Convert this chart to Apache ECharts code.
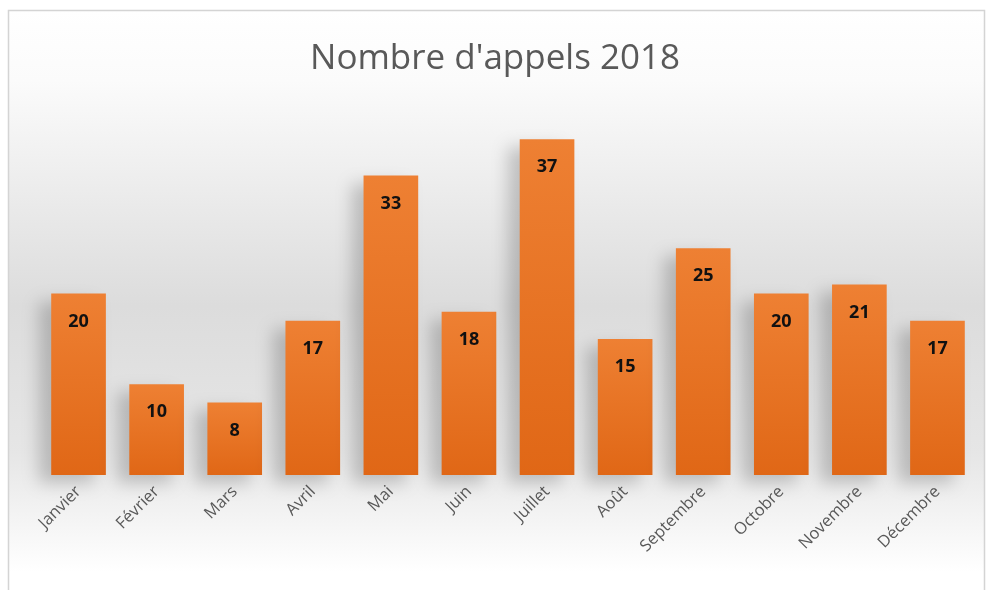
<!DOCTYPE html>
<html><head><meta charset="utf-8">
<script src="https://cdn.jsdelivr.net/npm/echarts@6/dist/echarts.min.js"></script>
<style>html,body{margin:0;padding:0;background:#fff}#c{width:990px;height:590px}</style>
</head><body><div id="c"></div>
<script>
const months = ['Janvier','Février','Mars','Avril','Mai','Juin','Juillet','Août','Septembre','Octobre','Novembre','Décembre'];
const calls = [20,10,8,17,33,18,37,15,25,20,21,17];
const titleText = "Nombre d'appels 2018";

const chart = echarts.init(document.getElementById('c'), null, {renderer:'canvas'});
chart.setOption({
  animation:false,
  graphic:[{
    type:'rect', z:-10, silent:true,
    shape:{x:8.5,y:10.5,width:976,height:590},
    style:{
      fill:new echarts.graphic.LinearGradient(0,0,0,1,[
        {offset:0,color:'#ffffff'},
        {offset:0.12,color:'#fbfbfb'},
        {offset:0.5,color:'#dcdcdc'},
        {offset:0.75,color:'#e6e6e6'},
        {offset:0.95,color:'#ffffff'},
        {offset:1,color:'#ffffff'}
      ]),
      stroke:'#d4d4d4', lineWidth:1.5
    }
  }],
  title:{
    text:titleText, left:'center', top:37,
    textStyle:{fontFamily:'Open Sans',fontSize:35,fontWeight:'normal',color:'#595959'}
  },
  grid:{left:39.5,right:13.5,top:112,bottom:115,containLabel:false},
  xAxis:{
    type:'category', data:months,
    axisLine:{show:false}, axisTick:{show:false},
    axisLabel:{rotate:45,color:'#595959',fontFamily:'Open Sans',fontSize:16.5,margin:14,interval:0}
  },
  yAxis:{type:'value',min:0,max:40,show:false,splitLine:{show:false}},
  series:[{
    type:'bar', data:calls, barWidth:'70%',
    itemStyle:{
      color:new echarts.graphic.LinearGradient(0,0,0,1,[
        {offset:0,color:'#EE8033'},
        {offset:1,color:'#E06716'}
      ]),
      shadowColor:'rgba(0,0,0,0.2)', shadowBlur:16, shadowOffsetX:-12, shadowOffsetY:8
    },
    label:{
      show:true, position:'insideTop', distance:19,
      color:'#111', fontWeight:'bold', fontSize:18, fontFamily:'Open Sans'
    }
  }]
});
</script></body></html>
